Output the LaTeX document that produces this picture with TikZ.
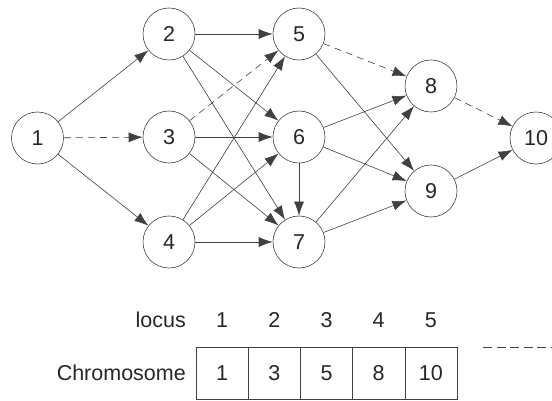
\documentclass[tikz,border=0pt]{standalone}
\usepackage{fontspec}
\setmainfont{Liberation Sans}
\usetikzlibrary{arrows.meta}
\tikzstyle{vertex}=[circle, draw=black!75, line width=0.6pt, minimum size=52pt, inner sep=0pt, text=black!85, font=\fontsize{21.5}{25}\selectfont]
\tikzstyle{edge}=[draw=black!75, line width=0.6pt, -{Latex[length=14pt,width=10pt]}]
\tikzstyle{dashedge}=[edge, dash pattern=on 7pt off 5pt]
\tikzstyle{cell}=[rectangle, draw=black!75, line width=0.6pt, minimum width=52.2pt, minimum height=52pt, inner sep=0pt, text=black!85, font=\fontsize{21.5}{25}\selectfont]
\tikzstyle{annot}=[inner sep=0pt, text=black!85, font=\fontsize{21.5}{25}\selectfont]
\begin{document}
\begin{tikzpicture}[x=1pt, y=-1pt]
	\useasboundingbox (0,0) rectangle (552,401);

	% graph
	\node[vertex](n1) at (37.5,138){1};
	\node[vertex](n2) at (169,34){2};
	\node[vertex](n3) at (169,137){3};
	\node[vertex](n4) at (169,242){4};
	\node[vertex](n5) at (299,34){5};
	\node[vertex](n6) at (299,137){6};
	\node[vertex](n7) at (299,242){7};
	\node[vertex](n8) at (431,86){8};
	\node[vertex](n9) at (431,191){9};
	\node[vertex](n10) at (536,138){10};

	\draw[edge] (n1) -- (n2);
	\draw[dashedge] (n1) -- (n3);
	\draw[edge] (n1) -- (n4);
	\foreach \a/\b in {2/5, 2/6, 2/7, 3/6, 3/7, 4/5, 4/6, 4/7, 5/9, 6/8, 6/9, 6/7, 7/8, 7/9, 9/10}
		\draw[edge] (n\a) -- (n\b);
	\draw[dashedge] (n3) -- (n5);
	\draw[dashedge] (n5) -- (n8);
	\draw[dashedge] (n8) -- (n10);

	% chromosome
	\foreach \i/\v in {1/1, 2/3, 3/5, 4/8, 5/10}
	{
		\node[cell](cell\i) at ({196+26.1+52.2*(\i-1)},373){\v};
		\node[annot](locus\i) at ({196+26.1+52.2*(\i-1)},320){\i};
	}
	\node[annot, anchor=east](locuslabel) at (186,320){locus};
	\node[annot, anchor=east](chromlabel) at (186,373){Chromosome};

	\coordinate (legend) at (483,347);
	\draw[draw=black!75, line width=0.6pt, dash pattern=on 9pt off 4.5pt] (legend) -- ++(80,0);

\end{tikzpicture}
\end{document}
